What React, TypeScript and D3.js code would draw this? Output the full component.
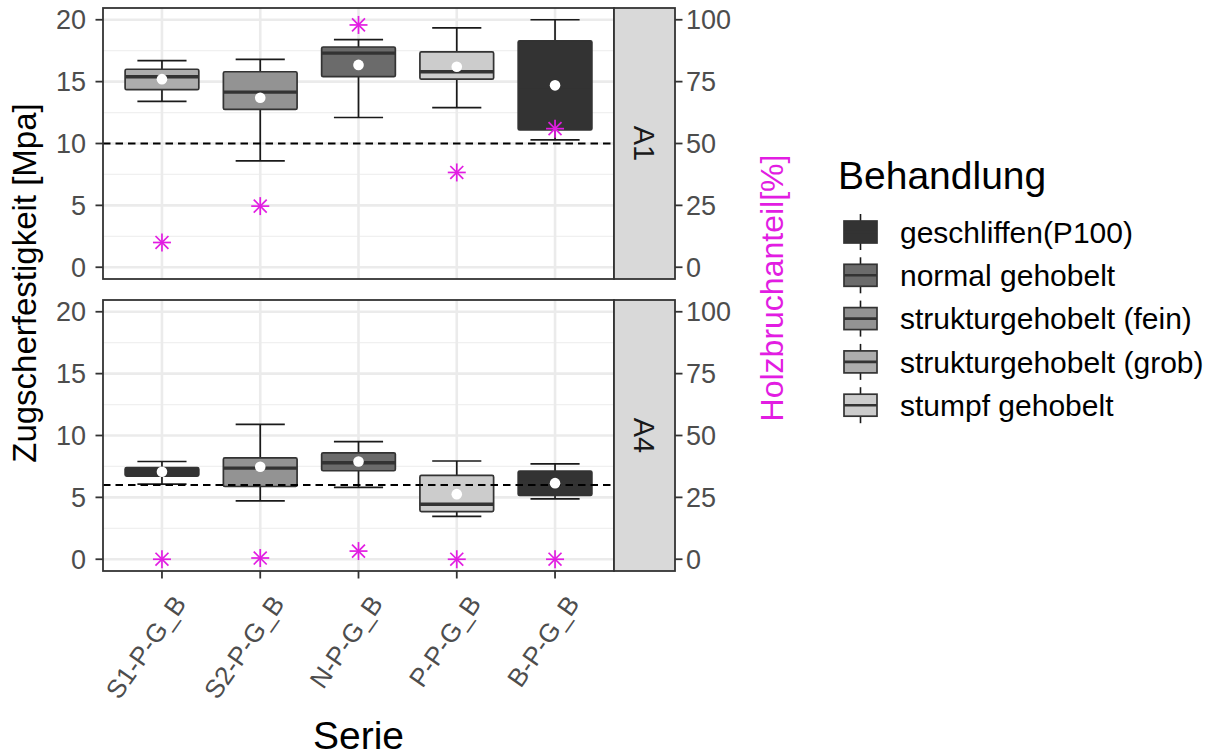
import React from "react";
import * as d3 from "d3";

const series = ["S1-P-G_B", "S2-P-G_B", "N-P-G_B", "P-P-G_B", "B-P-G_B"];
const facets = ["A1", "A4"];
const treatments = [
  "geschliffen(P100)",
  "normal gehobelt",
  "strukturgehobelt (fein)",
  "strukturgehobelt (grob)",
  "stumpf gehobelt",
];
const treatmentFill = ["#333333", "#6b6b6b", "#939393", "#adadad", "#cccccc"];

// A1 facet
const a1Treatment = [3, 2, 1, 4, 0];
const a1Min = [13.4, 8.6, 12.1, 12.9, 10.3];
const a1Q1 = [14.35, 12.75, 15.4, 15.2, 11.1];
const a1Median = [15.4, 14.15, 17.3, 15.8, 14.6];
const a1Q3 = [16.0, 15.8, 17.8, 17.4, 18.3];
const a1Max = [16.7, 16.8, 18.4, 19.35, 20.0];
const a1Mean = [15.2, 13.7, 16.35, 16.2, 14.7];
const a1Holz = [10, 24.7, 97.9, 38.3, 56];
const a1Ref = 10;

// A4 facet
const a4Treatment = [0, 2, 1, 4, 0];
const a4Min = [6.07, 4.72, 5.8, 3.47, 4.88];
const a4Q1 = [6.72, 5.88, 7.15, 3.85, 5.15];
const a4Median = [7.1, 7.36, 7.8, 4.45, 6.2];
const a4Q3 = [7.4, 8.19, 8.6, 6.77, 7.13];
const a4Max = [7.9, 10.9, 9.5, 7.94, 7.7];
const a4Mean = [7.07, 7.48, 7.9, 5.26, 6.15];
const a4Holz = [0, 0.5, 3.3, 0, 0];
const a4Ref = 6;

const yTicks = [0, 5, 10, 15, 20];
const yMinor = [2.5, 7.5, 12.5, 17.5];
const y2Ticks = [0, 25, 50, 75, 100];

const MAGENTA = "#E21DE2";
const DARK = "#333333";
const FONT = "'Liberation Sans', Arial, sans-serif";

const facetData = [
  { name: facets[0], tr: a1Treatment, min: a1Min, q1: a1Q1, med: a1Median, q3: a1Q3, max: a1Max, mean: a1Mean, holz: a1Holz, ref: a1Ref },
  { name: facets[1], tr: a4Treatment, min: a4Min, q1: a4Q1, med: a4Median, q3: a4Q3, max: a4Max, mean: a4Mean, holz: a4Holz, ref: a4Ref },
];

const panelLeft = 103;
const panelRight = 614;
const stripRight = 675;
const panelBoxes = [
  { top: 8, bottom: 279 },
  { top: 300, bottom: 571 },
];

function Star({ cx, cy }: { cx: number; cy: number }) {
  const r = 9;
  const d = r * 0.72;
  return (
    <g stroke={MAGENTA} strokeWidth={1.7}>
      <line x1={cx - r} y1={cy} x2={cx + r} y2={cy} />
      <line x1={cx} y1={cy - r} x2={cx} y2={cy + r} />
      <line x1={cx - d} y1={cy - d} x2={cx + d} y2={cy + d} />
      <line x1={cx - d} y1={cy + d} x2={cx + d} y2={cy - d} />
    </g>
  );
}

export default function App() {
  const x = d3.scalePoint<string>().domain(series).range([panelLeft, panelRight]).padding(0.6);
  const step = x.step();
  const boxW = step * 0.75;
  const capW = step * 0.5;

  return (
    <svg
      width={1222}
      height={756}
      style={{ position: "absolute", left: 0, top: 0, background: "#fff", fontFamily: FONT }}
    >
      <rect x={0} y={0} width={1222} height={756} fill="#fff" />
      {facetData.map((f, fi) => {
        const pb = panelBoxes[fi];
        const y = d3.scaleLinear().domain([-0.95, 20.95]).range([pb.bottom, pb.top]);
        const y2 = d3.scaleLinear().domain([-0.95 * 5, 20.95 * 5]).range([pb.bottom, pb.top]);
        return (
          <g key={f.name}>
            <rect x={panelLeft} y={pb.top} width={panelRight - panelLeft} height={pb.bottom - pb.top} fill="#fff" />
            {yMinor.map((t) => (
              <line key={"mi" + t} x1={panelLeft} x2={panelRight} y1={y(t)} y2={y(t)} stroke="#F0F0F0" strokeWidth={1.3} />
            ))}
            {yTicks.map((t) => (
              <line key={"ma" + t} x1={panelLeft} x2={panelRight} y1={y(t)} y2={y(t)} stroke="#EBEBEB" strokeWidth={2.6} />
            ))}
            {series.map((s) => (
              <line key={"vx" + s} x1={x(s)} x2={x(s)} y1={pb.top} y2={pb.bottom} stroke="#EBEBEB" strokeWidth={2.6} />
            ))}
            {series.map((s, i) => {
              const cx = x(s) as number;
              const fill = treatmentFill[f.tr[i]];
              return (
                <g key={"b" + s}>
                  <line x1={cx} x2={cx} y1={y(f.min[i])} y2={y(f.max[i])} stroke="#1a1a1a" strokeWidth={1.7} />
                  <line x1={cx - capW / 2} x2={cx + capW / 2} y1={y(f.min[i])} y2={y(f.min[i])} stroke="#1a1a1a" strokeWidth={1.7} />
                  <line x1={cx - capW / 2} x2={cx + capW / 2} y1={y(f.max[i])} y2={y(f.max[i])} stroke="#1a1a1a" strokeWidth={1.7} />
                  <rect
                    x={cx - boxW / 2}
                    y={y(f.q3[i])}
                    width={boxW}
                    height={y(f.q1[i]) - y(f.q3[i])}
                    fill={fill}
                    stroke={DARK}
                    strokeWidth={1.7}
                    rx={1.5}
                  />
                  <line x1={cx - boxW / 2} x2={cx + boxW / 2} y1={y(f.med[i])} y2={y(f.med[i])} stroke={DARK} strokeWidth={3.4} />
                </g>
              );
            })}
            <line x1={panelLeft} x2={panelRight} y1={y(f.ref)} y2={y(f.ref)} stroke="#000" strokeWidth={1.9} strokeDasharray="7.5 5" />
            {series.map((s, i) => (
              <circle key={"m" + s} cx={x(s)} cy={y(f.mean[i])} r={5.3} fill="#fff" />
            ))}
            {series.map((s, i) => (
              <Star key={"st" + s} cx={x(s) as number} cy={y2(f.holz[i])} />
            ))}
            <rect x={panelLeft} y={pb.top} width={panelRight - panelLeft} height={pb.bottom - pb.top} fill="none" stroke={DARK} strokeWidth={1.8} />
            <rect x={panelRight} y={pb.top} width={stripRight - panelRight} height={pb.bottom - pb.top} fill="#D9D9D9" stroke={DARK} strokeWidth={1.8} />
            <text
              transform={`translate(${(panelRight + stripRight) / 2},${(pb.top + pb.bottom) / 2}) rotate(90)`}
              textAnchor="middle"
              dy="0.36em"
              fontSize={29}
              fill="#1A1A1A"
            >
              {f.name}
            </text>
            {yTicks.map((t) => (
              <g key={"lt" + t}>
                <line x1={panelLeft - 7.5} x2={panelLeft} y1={y(t)} y2={y(t)} stroke={DARK} strokeWidth={1.8} />
                <text x={panelLeft - 17} y={y(t)} dy="0.36em" textAnchor="end" fontSize={27} fill="#4D4D4D">
                  {t}
                </text>
              </g>
            ))}
            {y2Ticks.map((t) => (
              <g key={"rt" + t}>
                <line x1={stripRight} x2={stripRight + 7.5} y1={y2(t)} y2={y2(t)} stroke={DARK} strokeWidth={1.8} />
                <text x={stripRight + 11} y={y2(t)} dy="0.36em" textAnchor="start" fontSize={27} fill="#4D4D4D">
                  {t}
                </text>
              </g>
            ))}
          </g>
        );
      })}
      {series.map((s) => (
        <g key={"xt" + s}>
          <line x1={x(s)} x2={x(s)} y1={571} y2={578.5} stroke={DARK} strokeWidth={1.8} />
          <text
            transform={`translate(${(x(s) as number) + 10},${593}) rotate(-55)`}
            textAnchor="end"
            dy="0.72em"
            fontSize={26}
            fill="#4D4D4D"
          >
            {s}
          </text>
        </g>
      ))}
      <text x={(panelLeft + panelRight) / 2} y={749} textAnchor="middle" fontSize={39} fill="#000">
        Serie
      </text>
      <text transform={`translate(36,283) rotate(-90)`} textAnchor="middle" fontSize={33} fill="#000">
        Zugscherfestigkeit [Mpa]
      </text>
      <text transform={`translate(783,288) rotate(-90)`} textAnchor="middle" fontSize={32} fill={MAGENTA}>
        Holzbruchanteil[%]
      </text>
      <text x={838} y={189} fontSize={39} fill="#000">
        Behandlung
      </text>
      {treatments.map((t, i) => {
        const cy = 232 + 43.3 * i;
        const kx = 844;
        const kw = 33;
        const kh = 22;
        return (
          <g key={"lg" + t}>
            <line x1={kx + kw / 2} x2={kx + kw / 2} y1={cy - 18} y2={cy + 18} stroke="#1a1a1a" strokeWidth={1.6} />
            <rect x={kx} y={cy - kh / 2} width={kw} height={kh} fill={treatmentFill[i]} stroke={DARK} strokeWidth={1.7} />
            <line x1={kx} x2={kx + kw} y1={cy} y2={cy} stroke={DARK} strokeWidth={2.6} />
            <text x={900} y={cy} dy="0.36em" fontSize={30} fill="#000">
              {t}
            </text>
          </g>
        );
      })}
    </svg>
  );
}
